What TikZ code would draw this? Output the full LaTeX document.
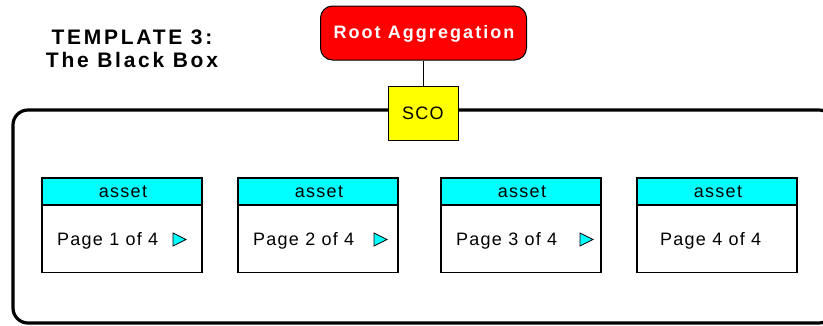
\documentclass[tikz,border=0pt]{standalone}
\usepackage{fontspec}
\setmainfont{Liberation Sans}
\newfontfamily\titlefont[LetterSpace=13]{Liberation Sans}
\newfontfamily\rootfont[LetterSpace=11.5]{Liberation Sans}
\newfontfamily\boxfont[LetterSpace=7]{Liberation Sans}
\definecolor{rootred}{HTML}{FF0000}
\definecolor{scoyellow}{HTML}{FFFF00}
\definecolor{assetcyan}{HTML}{00FFFF}
\begin{document}
\begin{tikzpicture}[x=1pt,y=-1pt,
  titletext/.style={inner sep=0pt, anchor=base, font=\titlefont\bfseries\fontsize{21}{24}\selectfont},
  rootbox/.style={draw=black, line width=1pt, fill=rootred, rounded corners=12pt,
    minimum width=206pt, minimum height=54pt, inner sep=0pt},
  rootlabel/.style={inner sep=0pt, anchor=base, text=white, font=\rootfont\bfseries\fontsize{18}{20}\selectfont},
  scobox/.style={draw=black, line width=1pt, fill=scoyellow, minimum width=70pt, minimum height=54pt, inner sep=0pt},
  boxlabel/.style={inner sep=0pt, font=\boxfont\fontsize{18}{20}\selectfont},
  outerbox/.style={draw=black, line width=3.2pt, rounded corners=15pt, minimum width=821pt, minimum height=213pt, inner sep=0pt},
  headbox/.style={draw=black, line width=1.2pt, fill=assetcyan, minimum width=160pt, minimum height=27pt, inner sep=0pt},
  bodybox/.style={draw=black, line width=1.2pt, fill=white, minimum width=160pt, minimum height=67pt, inner sep=0pt},
  nexttri/.style={draw=black, line width=0.8pt, fill=assetcyan, line join=miter},
  link/.style={draw=black, line width=1pt}
]
\useasboundingbox (0,0) rectangle (823,325);
% title
\node[titletext] (title1) at (132,44) {TEMPLATE 3:};
\node[titletext] (title2) at (132,67) {The Black Box};
% outer black box
\node[outerbox] (blackbox) at (423.5,216.5) {};
% root and sco
\node[rootbox] (root) at (423.5,33) {};
\node[rootlabel] (roottext) at (424,38.5) {Root Aggregation};
\node[scobox] (sco) at (423,113) {};
\node[boxlabel, anchor=base] (scotext) at (423,119) {SCO};
\draw[link] (root.south -| sco.north) -- (sco.north);
% asset boxes
\foreach \i/\cx/\tx in {1/122/57, 2/318/253, 3/521/456, 4/717/660}{
  \node[headbox] (head\i) at (\cx,191.5) {};
  \node[bodybox] (body\i) at (\cx,238.75) {};
  \node[boxlabel, anchor=base] (asset\i) at (\cx+1,197) {asset};
  \node[boxlabel, anchor=base west] (page\i) at (\tx,245.5) {Page \i\ of 4};
}
% next arrows
\coordinate (t1) at (173,233);
\coordinate (t2) at (374,233);
\coordinate (t3) at (580,233);
\foreach \k in {1,2,3}{
  \draw[nexttri] (t\k) -- ++(0,13) -- ++(13,-6.5) -- cycle;
}
\end{tikzpicture}
\end{document}
